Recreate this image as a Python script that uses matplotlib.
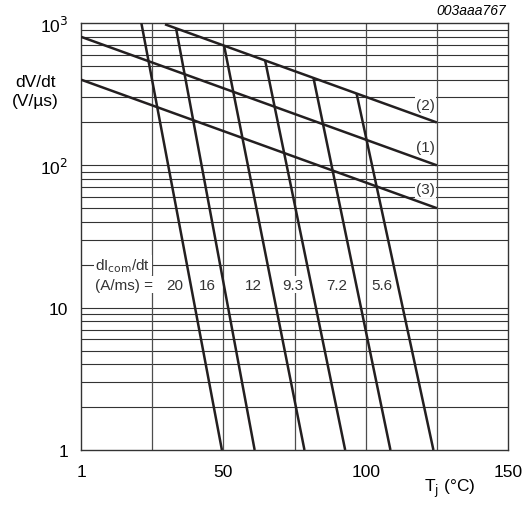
import numpy as np
import matplotlib
matplotlib.use("Agg")
import matplotlib.pyplot as plt
from matplotlib.ticker import FixedLocator, NullFormatter

plt.rcParams['font.family'] = ['Liberation Sans', 'DejaVu Sans']

# limiting lines (1), (2), (3): Tj start/end and dV/dt start/end
line_names = ['(2)', '(1)', '(3)']
line_tj = [[29.5, 125], [0, 125], [0, 125]]
line_dv = [[979, 200], [800, 100], [400, 50]]

# dIcom/dt curves
dicom_labels = ['20', '16', '12', '9.3', '7.2', '5.6']
dicom_tj_top = [21.2, 33.4, 50.3, 64.7, 81.7, 96.8]
dicom_dv_top = [1000, 915, 688, 543, 408, 320]
dicom_tj_bot = [49.5, 61.0, 78.5, 92.8, 108.7, 123.8]
dicom_dv_bot = [1, 1, 1, 1, 1, 1]

x_ticks = [0, 50, 100, 150]
x_tick_labels = ['1', '50', '100', '150']
y_ticks = [1, 10, 100, 1000]
y_tick_labels = ['1', '10', '10$^2$', '10$^3$']

fig = plt.figure(figsize=(5.32, 5.06), dpi=100)
ax = fig.add_axes([81/532, 1 - 451/506, 427/532, 427/506])
ax.set_yscale('log')
ax.set_xlim(0, 150)
ax.set_ylim(1, 1000)

# grid
minor = [m * 10**d for d in range(3) for m in range(2, 10)]
for v in minor + [10, 100]:
    ax.axhline(v, color='0.2', lw=0.8, zorder=1)
for v in [25, 50, 75, 100, 125]:
    ax.axvline(v, color='0.3', lw=0.9, zorder=1)

lc = '#231f20'
for tj, dv in zip(line_tj, line_dv):
    ax.plot(tj, dv, color=lc, lw=1.8, zorder=3, solid_capstyle='butt')
for i in range(len(dicom_labels)):
    ax.plot([dicom_tj_top[i], dicom_tj_bot[i]], [dicom_dv_top[i], dicom_dv_bot[i]],
            color=lc, lw=1.8, zorder=3, solid_capstyle='butt')

bb = dict(facecolor='white', edgecolor='none', pad=1.0)
for name, yy in zip(line_names, [267, 135, 68]):
    ax.text(121, yy, name, ha='center', va='center', fontsize=11, color='#333333',
            bbox=bb, zorder=4)

ax.text(5, 20, 'dI$_{\\rm com}$/dt', ha='left', va='center', fontsize=11,
        color='#333333', bbox=bb, zorder=4)
ax.text(5, 14.5, '(A/ms) =', ha='left', va='center', fontsize=11,
        color='#333333', bbox=bb, zorder=4)
label_x = [33.0, 44.5, 60.5, 74.5, 90.0, 105.7]
for lab, xx in zip(dicom_labels, label_x):
    ax.text(xx, 14.5, lab, ha='center', va='center', fontsize=11, color='#333333',
            bbox=bb, zorder=4)

ax.xaxis.set_major_locator(FixedLocator(x_ticks))
ax.set_xticklabels(x_tick_labels)
ax.yaxis.set_major_locator(FixedLocator(y_ticks))
ax.yaxis.set_minor_formatter(NullFormatter())
ax.set_yticklabels(y_tick_labels)
ax.tick_params(which='both', length=0, labelsize=12.5, pad=9)
ax.tick_params(axis='x', pad=10)
for s in ax.spines.values():
    s.set_linewidth(1.0)
    s.set_color('0.2')

fig.text(35/532, 1 - 92/506, 'dV/dt\n(V/µs)', ha='center', va='center', fontsize=12.5,
         linespacing=1.3)
fig.text(450/532, 1 - 489/506, 'T$_{\\rm j}$ (°C)', ha='center', va='center', fontsize=12.5)
fig.text(506/532, 1 - 11/506, '003aaa767', ha='right', va='center', fontsize=10,
         style='italic')

fig.savefig('out.png', dpi=100)
